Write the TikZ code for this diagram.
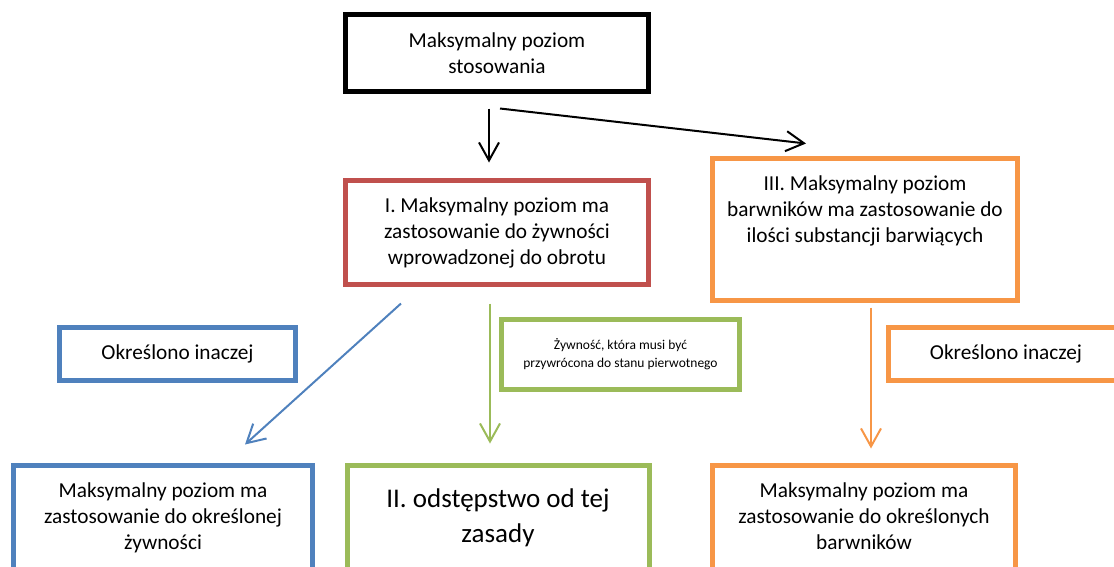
\documentclass[tikz,border=0pt]{standalone}
\usepackage{fontspec}
\setmainfont{Carlito}
\usetikzlibrary{arrows.meta}
\definecolor{boxRed}{HTML}{C0504D}
\definecolor{boxBlue}{HTML}{4F81BD}
\definecolor{boxGreen}{HTML}{9BBB59}
\definecolor{boxOrange}{HTML}{F79646}
\newcommand{\midsize}{\fontsize{21.3}{26}\selectfont}
\newcommand{\smallsize}{\fontsize{13.5}{18}\selectfont}
\newcommand{\bigsize}{\fontsize{27}{35}\selectfont}
\newcommand{\toptext}[4]{\parbox[c][#2][t]{#1}{\centering\vspace*{#3}\strut #4}}

\begin{document}
\begin{tikzpicture}[x = 1pt, y = -1pt,
		box/.style = {draw, line width = 5pt, align = center, inner sep = 0pt, font = \midsize},
		arr/.style = {line width = 2pt, -{Straight Barb[length = 18pt, width = 20pt]}}]
		\useasboundingbox (0, 0) rectangle (1114, 566);
		\clip (0, 0) rectangle (1114, 566);
		%%%%%%%%%%%%%
		\node[box, draw = black, minimum width = 303pt, minimum height = 77pt] (top) at (497, 53) {Maksymalny poziom\\stosowania};
		\node[box, draw = boxRed, minimum width = 303pt, minimum height = 104pt] (food) at (497, 232.5) {I. Maksymalny poziom ma\\zastosowanie do żywności\\wprowadzonej do obrotu};
		\node[box, draw = boxOrange] (dye) at (865, 229.5) {\toptext{305pt}{142pt}{14pt}{III. Maksymalny poziom\\barwników ma zastosowanie do\\ilości substancji barwiących}};
		\node[box, draw = boxBlue, minimum width = 236pt, minimum height = 53pt] (otherL) at (177.5, 354) {Określono inaczej};
		\node[box, draw = boxGreen, minimum width = 238pt, minimum height = 70pt, font = \smallsize] (restore) at (620.5, 354.5) {Żywność, która musi być\\przywrócona do stanu pierwotnego};
		\node[box, draw = boxOrange, minimum width = 235pt, minimum height = 53pt] (otherR) at (1006, 354) {Określono inaczej};
		\node[box, draw = boxBlue] (foodL) at (163, 532.75) {\toptext{299pt}{134.5pt}{14pt}{Maksymalny poziom ma\\zastosowanie do określonej\\żywności}};
		\node[box, draw = boxGreen, font = \bigsize] (rule) at (498, 532.75) {\toptext{302pt}{134.5pt}{17pt}{II. odstępstwo od tej\\zasady}};
		\node[box, draw = boxOrange] (dyeR) at (864, 532.75) {\toptext{303pt}{134.5pt}{14pt}{Maksymalny poziom ma\\zastosowanie do określonych\\barwników}};
		%%%%%%%%%%%%%
		\draw[arr] ([shift = {(-8, 14.5)}]top.south) to ([shift = {(-8, -15.5)}]food.north);
		\draw[arr] ([shift = {(3, 14.5)}]top.south) to ([shift = {(-59, -12.5)}]dye.north);
		\draw[arr, boxBlue] ([shift = {(-96, 16.5)}]food.south) to ([shift = {(82, -18.5)}]foodL.north);
		\draw[arr, boxGreen] ([shift = {(-7, 16.5)}]food.south) to ([shift = {(-8, -19.5)}]rule.north);
		\draw[arr, boxOrange] ([shift = {(6, 4.5)}]dye.south) to ([shift = {(7, -14.5)}]dyeR.north);
\end{tikzpicture}
\end{document}
